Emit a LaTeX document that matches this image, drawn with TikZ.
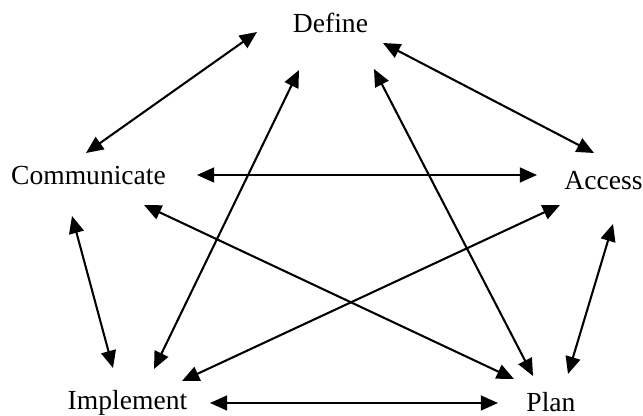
\documentclass[tikz,border=0pt]{standalone}
\usepackage{fontspec}
\setmainfont{Liberation Serif}
\usetikzlibrary{arrows.meta}

\begin{document}
\begin{tikzpicture}[x=0.435pt, y=-0.435pt,
        every node/.style={font=\fontsize{12pt}{14pt}\selectfont, inner sep=0pt, anchor=base},
        link/.style={<->, >={Triangle[length=7.5pt,width=6.5pt]}, line width=0.9pt}]
    \useasboundingbox (0,0) rectangle (643,416);

    % the five stages
    \node (def)  at (330.5,33) {Define};
    \node (com)  at (88.5,185) {Communicate};
    \node (acc)  at (603.5,190) {Access};
    \node (imp)  at (127.5,410) {Implement};
    \node (plan) at (551,412) {Plan};

    % arrow ends
    \coordinate (def-com) at (257,32);   \coordinate (com-def) at (86,153);
    \coordinate (def-acc) at (383,43);   \coordinate (acc-def) at (594,153);
    \coordinate (com-acc) at (197,175);  \coordinate (acc-com) at (537,175);
    \coordinate (def-imp) at (299,70);   \coordinate (imp-def) at (154,369);
    \coordinate (def-plan) at (374,69);  \coordinate (plan-def) at (533,376);
    \coordinate (com-plan) at (144,205); \coordinate (plan-com) at (514,379);
    \coordinate (acc-imp) at (560,205);  \coordinate (imp-acc) at (182,381);
    \coordinate (com-imp) at (72,216);   \coordinate (imp-com) at (113,368);
    \coordinate (acc-plan) at (613,224); \coordinate (plan-acc) at (568,374);
    \coordinate (imp-plan) at (210,403); \coordinate (plan-imp) at (498,403);

    \draw [link] (def-com) -- (com-def);
    \draw [link] (def-acc) -- (acc-def);
    \draw [link] (com-acc) -- (acc-com);
    \draw [link] (def-imp) -- (imp-def);
    \draw [link] (def-plan) -- (plan-def);
    \draw [link] (com-plan) -- (plan-com);
    \draw [link] (acc-imp) -- (imp-acc);
    \draw [link] (com-imp) -- (imp-com);
    \draw [link] (acc-plan) -- (plan-acc);
    \draw [link] (imp-plan) -- (plan-imp);
\end{tikzpicture}
\end{document}
